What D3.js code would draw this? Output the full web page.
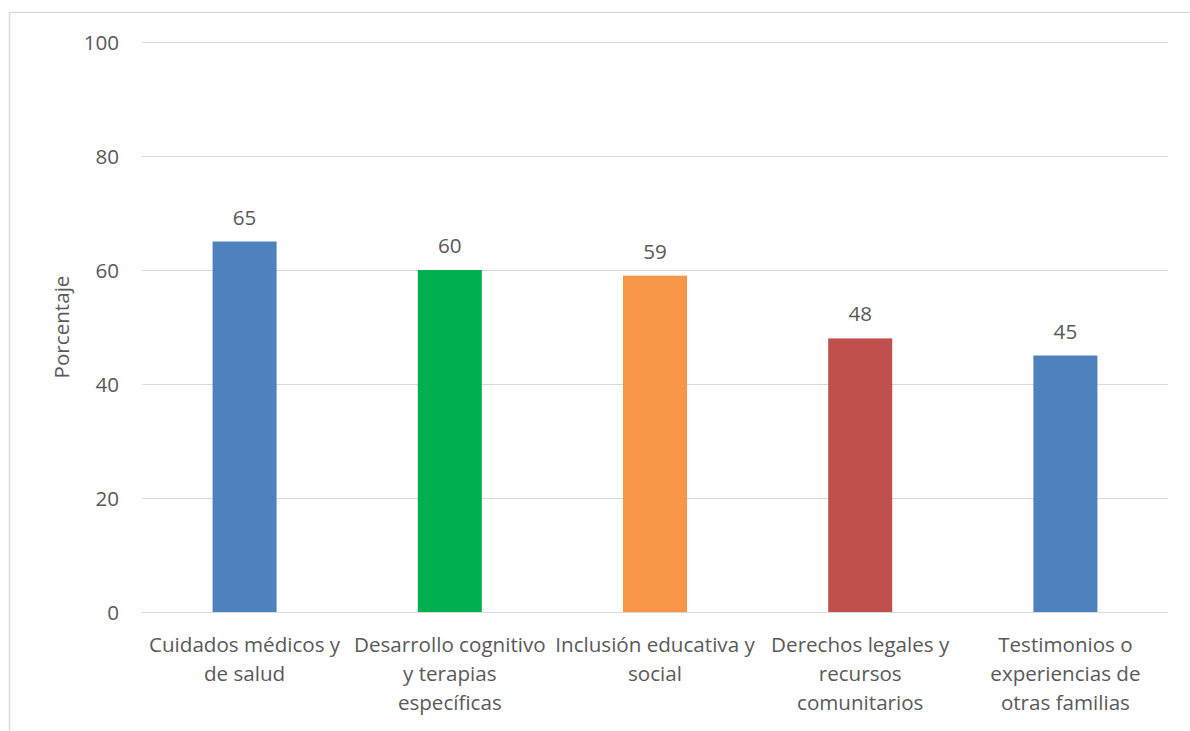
<!DOCTYPE html>
<html>
<head>
<meta charset="utf-8">
<script src="https://cdn.jsdelivr.net/npm/d3@7"></script>
<style>
  html, body { margin: 0; padding: 0; background: #fff; }
  svg { display: block; }
  text { font-family: "Open Sans", "Noto Sans", sans-serif; fill: #595959; }
</style>
</head>
<body>
<svg id="chart" width="1190" height="731"></svg>
<script>
// Topics and their share of respondents (%)
const categories = [
  "Cuidados médicos y de salud",
  "Desarrollo cognitivo y terapias específicas",
  "Inclusión educativa y social",
  "Derechos legales y recursos comunitarios",
  "Testimonios o experiencias de otras familias"
];
const categoryLines = [
  ["Cuidados médicos y", "de salud"],
  ["Desarrollo cognitivo", "y terapias", "específicas"],
  ["Inclusión educativa y", "social"],
  ["Derechos legales y", "recursos", "comunitarios"],
  ["Testimonios o", "experiencias de", "otras familias"]
];
const values = [65, 60, 59, 48, 45];
const barColors = ["#4F81BD", "#00B050", "#F79646", "#C0504D", "#4F81BD"];
const yTicks = [0, 20, 40, 60, 80, 100];
const yTitle = "Porcentaje";

const svg = d3.select("#chart");
const W = 1190, H = 731;
const margin = { left: 142, right: 22, top: 42, bottom: 119 };
const fontSize = 20.6;

// outer chart frame
svg.append("rect")
  .attr("x", 9.5).attr("y", 12.5)
  .attr("width", W + 20).attr("height", H + 20)
  .attr("fill", "none").attr("stroke", "#D9D9D9").attr("stroke-width", 1.3);

const x = d3.scaleBand()
  .domain(categories)
  .range([margin.left, W - margin.right])
  .paddingInner(0.688)
  .paddingOuter(0.344);

const y = d3.scaleLinear()
  .domain([0, 100])
  .range([H - margin.bottom, margin.top]);

// horizontal gridlines
svg.append("g")
  .selectAll("line")
  .data(yTicks)
  .join("line")
  .attr("x1", margin.left).attr("x2", W - margin.right)
  .attr("y1", d => Math.round(y(d)) + 0.5).attr("y2", d => Math.round(y(d)) + 0.5)
  .attr("stroke", "#D9D9D9").attr("stroke-width", 1.2);

// y-axis tick labels
const yAxis = d3.axisLeft(y).tickValues(yTicks).tickSize(0).tickPadding(0);
const gy = svg.append("g").attr("transform", `translate(${margin.left - 23},0)`).call(yAxis);
gy.select(".domain").remove();
gy.selectAll("text")
  .attr("font-size", fontSize)
  .attr("dy", "0.35em")
  .style("font-family", "\"Open Sans\", sans-serif")
  .attr("fill", "#595959");

// y-axis title
svg.append("text")
  .attr("transform", `translate(69,${(y(0) + y(100)) / 2}) rotate(-90)`)
  .attr("text-anchor", "middle")
  .attr("font-size", fontSize)
  .text(yTitle);

// bars
svg.append("g")
  .selectAll("rect")
  .data(values)
  .join("rect")
  .attr("x", (d, i) => x(categories[i]))
  .attr("width", x.bandwidth())
  .attr("y", d => y(d))
  .attr("height", d => y(0) - y(d))
  .attr("fill", (d, i) => barColors[i]);

// value labels
svg.append("g")
  .selectAll("text")
  .data(values)
  .join("text")
  .attr("x", (d, i) => x(categories[i]) + x.bandwidth() / 2)
  .attr("y", d => y(d) - 17)
  .attr("text-anchor", "middle")
  .attr("font-size", fontSize)
  .text(d => d);

// category labels (x axis)
const xAxis = d3.axisBottom(x).tickSize(0).tickFormat("");
const gx = svg.append("g").attr("transform", `translate(0,${y(0)})`).call(xAxis);
gx.select(".domain").remove();
gx.selectAll(".tick").each(function (d, i) {
  const t = d3.select(this).append("text")
    .attr("text-anchor", "middle")
    .attr("font-size", fontSize)
    .attr("fill", "#595959")
    .style("font-family", "\"Open Sans\", sans-serif");
  categoryLines[i].forEach((line, k) => {
    t.append("tspan").attr("x", 0).attr("y", 40 + k * 29).text(line);
  });
});
</script>
</body>
</html>
